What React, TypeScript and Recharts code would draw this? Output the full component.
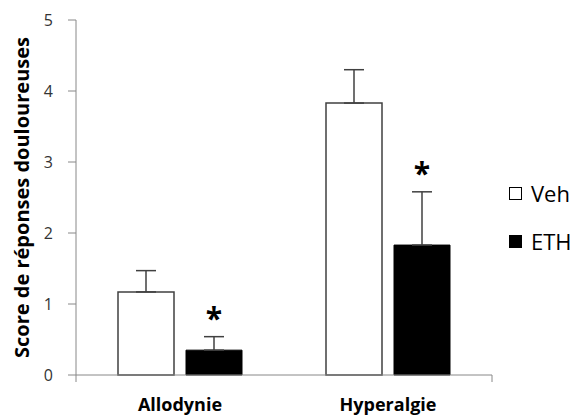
import { BarChart, Bar, XAxis, YAxis, ErrorBar, LabelList } from "recharts";

const categories = ["Allodynie", "Hyperalgie"];
const vehValues = [1.17, 3.83];
const vehErrors = [0.3, 0.47];
const ethValues = [0.35, 1.83];
const ethErrors = [0.19, 0.75];
const significant = [true, true];
const yTicks = [0, 1, 2, 3, 4, 5];
const legendItems = [
  { label: "Veh", fill: "#fff" },
  { label: "ETH", fill: "#000" },
];

const data = categories.map((name, i) => ({
  name,
  veh: vehValues[i],
  vehErr: [0, vehErrors[i]],
  eth: ethValues[i],
  ethErr: [0, ethErrors[i]],
}));

const font = "'Open Sans', sans-serif";

// asterisk sits above the ETH error bar
const renderStar = (props: any) => {
  const { x, y, width, height, value, index } = props;
  if (!significant[index]) return null;
  const errTop = y - (ethErrors[index] * height) / value;
  return (
    <text
      x={x + width / 2}
      y={errTop - 8}
      textAnchor="middle"
      fontSize={30}
      fontWeight="bold"
      fill="#000"
      fontFamily={font}
    >
      *
    </text>
  );
};

const renderCatTick = (props: any) => {
  const { x, y, payload } = props;
  return (
    <text
      x={x}
      y={y + 20}
      textAnchor="middle"
      fontSize={18}
      fontWeight="bold"
      fill="#000"
      fontFamily={font}
    >
      {payload.value}
    </text>
  );
};

export default function App() {
  return (
    <div style={{ position: "absolute", left: 0, top: 0, width: 579, height: 416, background: "#fff" }}>
      <BarChart
        width={579}
        height={416}
        data={data}
        margin={{ top: 20, right: 87, left: 12, bottom: 0 }}
        barGap={12}
        barSize={56}
        style={{ fontFamily: font }}
      >
        <XAxis
          xAxisId="b"
          dataKey="name"
          axisLine={false}
          tickLine={false}
          height={33}
          tick={renderCatTick}
          interval={0}
        />
        <XAxis
          xAxisId="a"
          type="number"
          domain={[0, 2]}
          ticks={[0, 1, 2]}
          allowDataOverflow
          tickFormatter={() => ""}
          tickSize={7}
          height={8}
          stroke="#888"
        />
        <YAxis
          domain={[0, 5]}
          ticks={yTicks}
          width={64}
          tickSize={8}
          stroke="#888"
          tick={{ fill: "#333", fontSize: 16, dx: -13 }}
          label={(p: any) => {
            const vb = p.viewBox;
            const cx = vb.x + 9;
            const cy = vb.y + vb.height / 2;
            return (
              <text
                x={cx}
                y={cy}
                transform={`rotate(-90 ${cx} ${cy})`}
                textAnchor="middle"
                dominantBaseline="central"
                fontSize={20}
                fontWeight="bold"
                fill="#000"
                fontFamily={font}
              >
                Score de réponses douloureuses
              </text>
            );
          }}
        />
        <Bar
          xAxisId="b"
          dataKey="veh"
          name="Veh"
          fill="#fff"
          stroke="#404040"
          strokeWidth={1.5}
          isAnimationActive={false}
        >
          <ErrorBar dataKey="vehErr" direction="y" width={10} stroke="#404040" strokeWidth={1.5} />
        </Bar>
        <Bar
          xAxisId="b"
          dataKey="eth"
          name="ETH"
          fill="#000"
          stroke="#000"
          isAnimationActive={false}
        >
          <ErrorBar dataKey="ethErr" direction="y" width={10} stroke="#404040" strokeWidth={1.5} />
          <LabelList dataKey="eth" content={renderStar} />
        </Bar>
      </BarChart>
      <div style={{ position: "absolute", left: 509, top: 169, fontFamily: font, fontSize: 22, color: "#000" }}>
        {legendItems.map((it) => (
          <div key={it.label} style={{ display: "flex", alignItems: "center", height: 48 }}>
            <span
              style={{
                width: 11,
                height: 11,
                background: it.fill,
                border: "1px solid #000",
                marginRight: 9,
              }}
            />
            <span>{it.label}</span>
          </div>
        ))}
      </div>
    </div>
  );
}
